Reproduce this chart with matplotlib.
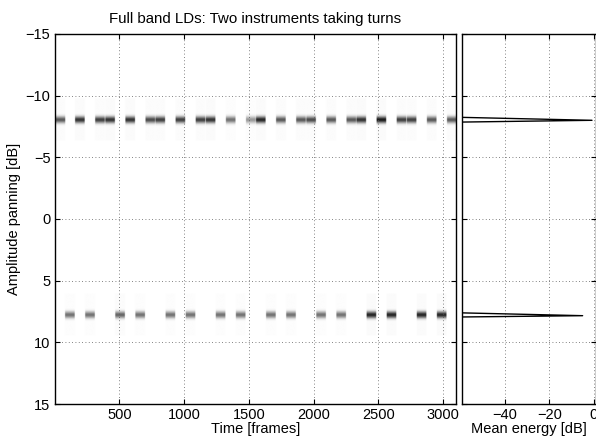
import numpy as np
import matplotlib
matplotlib.use("Agg")
import matplotlib.pyplot as plt

plt.rcParams['font.family'] = ['Liberation Sans', 'DejaVu Sans']
plt.rcParams['font.size'] = 10.5

# panning position of the two instruments [dB]
pan_upper = -8.0
pan_lower = 7.8

# start frames of the active blocks and their darkness (0 = white, 1 = black)
upper_starts = [5, 155, 310, 388, 543, 698, 775, 930, 1085, 1163, 1318, 1473,
                1550, 1705, 1860, 1938, 2093, 2248, 2325, 2480, 2635, 2713, 2868, 3023]
upper_levels = [0.65, 0.8, 0.75, 0.8, 0.8, 0.7, 0.75, 0.75, 0.75, 0.8, 0.55, 0.4,
                0.85, 0.65, 0.65, 0.7, 0.65, 0.65, 0.8, 0.9, 0.75, 0.75, 0.65, 0.65]
lower_starts = [78, 233, 465, 620, 853, 1008, 1240, 1395, 1628, 1783, 2015, 2170,
                2403, 2558, 2790, 2945]
lower_levels = [0.55, 0.55, 0.6, 0.55, 0.55, 0.55, 0.55, 0.55, 0.55, 0.55, 0.55, 0.55,
                0.85, 0.85, 0.85, 0.85]
block_len = 74
n_frames = 3100

# mean energy profile (right panel)
upper_energy_pan = [-8.25, -8.0, -7.85]
upper_energy_db = [-62, -0.8, -62]
lower_energy_pan = [7.6, 7.84, 7.95]
lower_energy_db = [-62, -5, -62]


def build_image():
    pans = np.linspace(-15, 15, 601)
    img = np.zeros((len(pans), n_frames))
    rows = [(pan_upper, upper_starts, upper_levels), (pan_lower, lower_starts, lower_levels)]
    for row, starts, levels in rows:
        profile = np.exp(-0.5 * ((pans - row) / 0.19) ** 2)
        profile = np.maximum(profile, 0.02 * (np.abs(pans - row) < 1.7))
        for s, lv in zip(starts, levels):
            e = min(s + block_len, n_frames)
            img[:, s:e] = np.maximum(img[:, s:e], lv * profile[:, None])
    return img


def style_axes(ax):
    ax.grid(True, linestyle=(0, (1, 3)), color='0.35', linewidth=0.6)
    ax.tick_params(direction='in', top=True, right=True, length=3.5, width=0.8, pad=3)
    for sp in ax.spines.values():
        sp.set_linewidth(1.0)


fig = plt.figure(figsize=(5.96, 4.41), dpi=100)
ax = fig.add_axes([0.0916, 0.0839, 0.6734, 0.8391])
ax2 = fig.add_axes([0.7757, 0.0839, 0.2243, 0.8391], sharey=ax)

img = build_image()
ax.imshow(img, cmap='gray_r', vmin=0, vmax=1, aspect='auto',
          extent=[0, n_frames, 15, -15], interpolation='bilinear')
ax.set_xlim(0, 3100)
ax.set_ylim(15, -15)
ax.set_xticks([500, 1000, 1500, 2000, 2500, 3000])
ax.set_yticks([-15, -10, -5, 0, 5, 10, 15])
ax.set_xlabel("Time [frames]", labelpad=0)
ax.set_ylabel("Amplitude panning [dB]", labelpad=3)
ax.set_title("Full band LDs: Two instruments taking turns", fontsize=10.8, pad=8)
style_axes(ax)

ax2.plot(upper_energy_db, upper_energy_pan, color='k', linewidth=1)
ax2.plot(lower_energy_db, lower_energy_pan, color='k', linewidth=1)
ax2.set_xlim(-59, 1)
ax2.set_xticks([-40, -20, 0])
ax2.set_xlabel("Mean energy [dB]", labelpad=0)
ax2.tick_params(labelleft=False)
style_axes(ax2)

fig.savefig("out.png", dpi=100)
